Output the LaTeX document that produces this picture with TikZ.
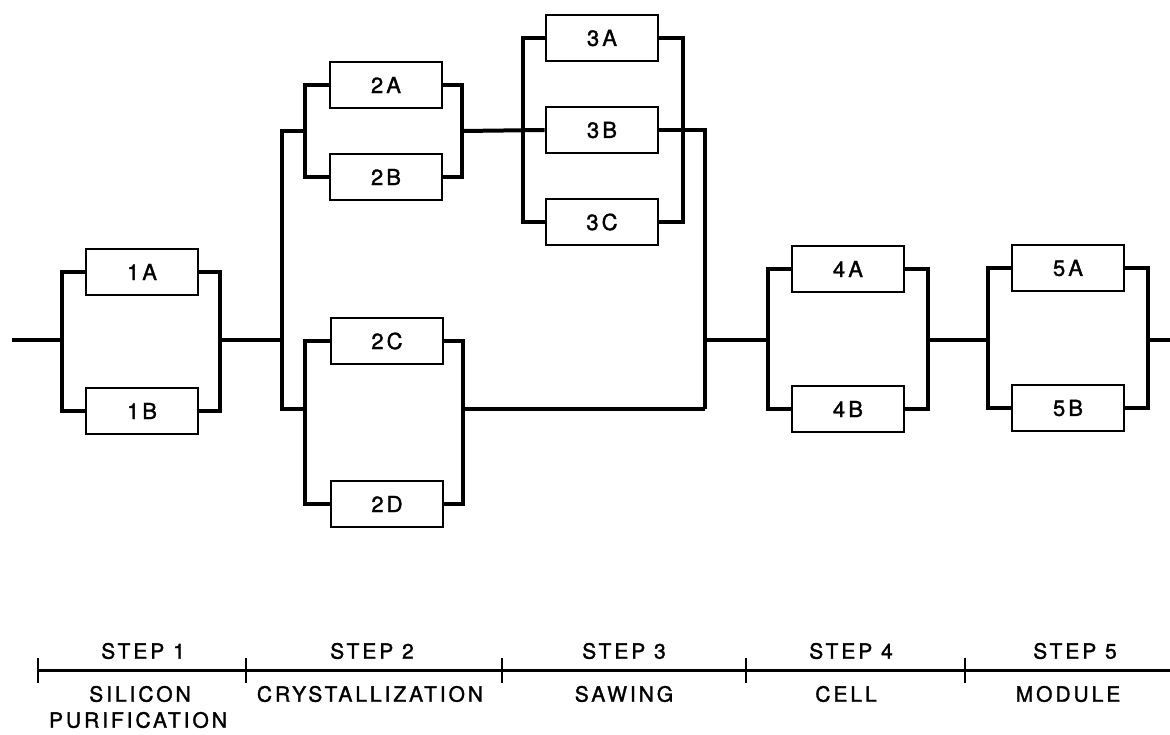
\documentclass[tikz,border=0pt]{standalone}
\usepackage{fontspec}
\setmainfont{TeX Gyre Heros}[LetterSpace=14,FakeBold=1.5]
\begin{document}
\begin{tikzpicture}[x=1pt,y=-1pt,
  box/.style={draw,line width=2.6pt,minimum width=112pt,minimum height=46pt,inner sep=0pt,
    font=\fontsize{22}{25}\selectfont},
  rail/.style={line width=4pt,line join=miter,line cap=butt},
  axisline/.style={line width=3pt},
  tickline/.style={line width=2.6pt},
  lbl/.style={font=\fontsize{21}{24}\selectfont,inner sep=0pt}]
\useasboundingbox (0,0) rectangle (1170,734);
% boxes
\node[box] (b1A) at (142,272) {1A};
\node[box] (b1B) at (142,411) {1B};
\node[box] (b2A) at (386,85) {2A};
\node[box] (b2B) at (386,177) {2B};
\node[box] (b2C) at (387,341) {2C};
\node[box] (b2D) at (387,504) {2D};
\node[box] (b3A) at (602,38) {3A};
\node[box] (b3B) at (602,130) {3B};
\node[box] (b3C) at (602,222) {3C};
\node[box] (b4A) at (848,269) {4A};
\node[box] (b4B) at (848,409) {4B};
\node[box] (b5A) at (1068,268) {5A};
\node[box] (b5B) at (1068,408) {5B};
% junction coordinates
\coordinate (in) at (12,340);
\coordinate (g1l) at (62,340);
\coordinate (g1r) at (220,340);
\coordinate (g2o) at (282,340);
\coordinate (g2ABl) at (305,131);
\coordinate (g2ABr) at (462,131);
\coordinate (g2CDl) at (305,409);
\coordinate (g2CDr) at (463,409);
\coordinate (g3l) at (523,130);
\coordinate (g3r) at (683,130);
\coordinate (g3o) at (705,340);
\coordinate (g3b) at (705,409);
\coordinate (g4l) at (768,340);
\coordinate (g4r) at (928,340);
\coordinate (g5l) at (988,340);
\coordinate (g5r) at (1148,340);
\coordinate (out) at (1172,340);
% step 1
\draw[rail] (in) -- (g1l);
\draw[rail] (b1A.west) -| (g1l) |- (b1B.west);
\draw[rail] (b1A.east) -| (g1r) |- (b1B.east);
\draw[rail] (g1r) -- (g2o);
% step 2
\draw[rail] (g2ABl) -| (g2o) |- (g2CDl);
\draw[rail] (b2A.west) -| (g2ABl) |- (b2B.west);
\draw[rail] (b2A.east) -| (g2ABr) |- (b2B.east);
\draw[rail] (b2C.west) -| (g2CDl) |- (b2D.west);
\draw[rail] (b2C.east) -| (g2CDr) |- (b2D.east);
\draw[rail] (g2ABr) -- (b3B.west);
\draw[rail] (g2CDr) -- (g3b);
% step 3
\draw[rail] (b3A.west) -| (g3l) |- (b3C.west);
\draw[rail] (b3A.east) -| (g3r) |- (b3C.east);
\draw[rail] (b3B.east) -| (g3o) -- (g3b);
\draw[rail] (g3o) -- (g4l);
% step 4
\draw[rail] (b4A.west) -| (g4l) |- (b4B.west);
\draw[rail] (b4A.east) -| (g4r) |- (b4B.east);
\draw[rail] (g4r) -- (g5l);
% step 5
\draw[rail] (b5A.west) -| (g5l) |- (b5B.west);
\draw[rail] (b5A.east) -| (g5r) |- (b5B.east);
\draw[rail] (g5r) -- (out);
% axis
\coordinate (t0) at (38,670);
\coordinate (t1) at (246,670);
\coordinate (t2) at (502,670);
\coordinate (t3) at (746,670);
\coordinate (t4) at (965,670);
\coordinate (tend) at (1172,670);
\draw[axisline] (t0) -- (tend);
\foreach \t in {t0,t1,t2,t3,t4} \draw[tickline] (\t) ++(0,-12) -- ++(0,25);
% labels
\node[lbl] (s1) at (143,651) {STEP 1};
\node[lbl] (s2) at (372,651) {STEP 2};
\node[lbl] (s3) at (624,651) {STEP 3};
\node[lbl] (s4) at (851,651) {STEP 4};
\node[lbl] (s5) at (1075,651) {STEP 5};
\node[lbl] (n1a) at (140,694) {SILICON};
\node[lbl] (n1b) at (138,720) {PURIFICATION};
\node[lbl] (n2) at (370,694) {CRYSTALLIZATION};
\node[lbl] (n3) at (624,694) {SAWING};
\node[lbl] (n4) at (846,694) {CELL};
\node[lbl] (n5) at (1068,694) {MODULE};
\end{tikzpicture}
\end{document}
